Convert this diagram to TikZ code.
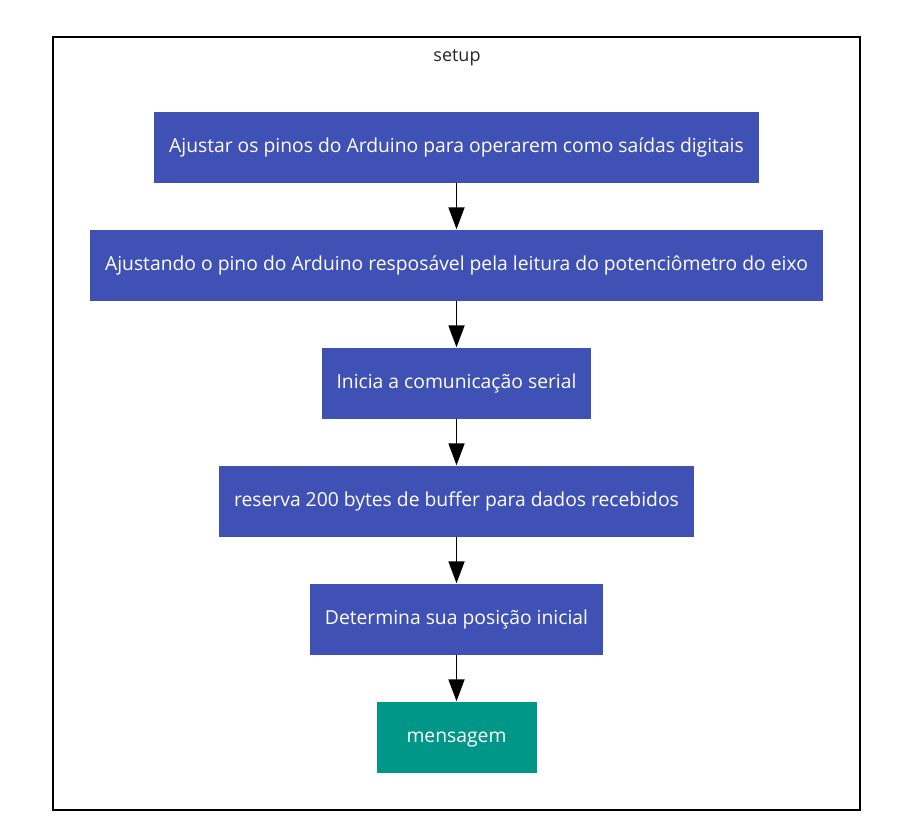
\documentclass[tikz,border=0pt]{standalone}
\usepackage{fontspec}
\setmainfont{Open Sans}
\usetikzlibrary{positioning,arrows.meta}
\definecolor{stepblue}{HTML}{3F51B5}
\definecolor{msggreen}{HTML}{009688}

\begin{document}
\begin{tikzpicture}[
  x=1pt, y=1pt,
  node distance=46.6pt,
  frame/.style={draw, line width=1.6pt, minimum width=807pt, minimum height=773pt, inner sep=0pt},
  title/.style={font=\fontsize{18}{21}\selectfont, text=black!85},
  stepbox/.style={fill=stepblue, text=white, font=\fontsize{19.3}{23}\selectfont, minimum height=71pt, inner xsep=15pt, text height=14.5pt, text depth=4.5pt},
  msgbox/.style={stepbox, fill=msggreen, minimum width=160pt},
  flow/.style={-{Triangle[length=22pt, width=16pt]}, line width=1.8pt},
]
  \useasboundingbox (0,0) rectangle (914,-833);

  % outer frame
  \node[frame] (setupframe) at (456.5,-423.5) {};
  \node[title] (setuptitle) at (457,-57.5) {setup};

  % steps
  \node[stepbox] (pins) at (456.5,-147) {Ajustar os pinos do Arduino para operarem como saídas digitais};
  \node[stepbox, below=of pins] (pot) {Ajustando o pino do Arduino resposável pela leitura do potenciômetro do eixo};
  \node[stepbox, below=of pot] (serial) {Inicia a comunicação serial};
  \node[stepbox, below=of serial] (buffer) {reserva 200 bytes de buffer para dados recebidos};
  \node[stepbox, below=of buffer] (initpos) {Determina sua posição inicial};
  \node[msgbox, below=of initpos] (msg) {mensagem};

  % arrows
  \draw[flow] (pins) -- (pot);
  \draw[flow] (pot) -- (serial);
  \draw[flow] (serial) -- (buffer);
  \draw[flow] (buffer) -- (initpos);
  \draw[flow] (initpos) -- (msg);
\end{tikzpicture}
\end{document}
